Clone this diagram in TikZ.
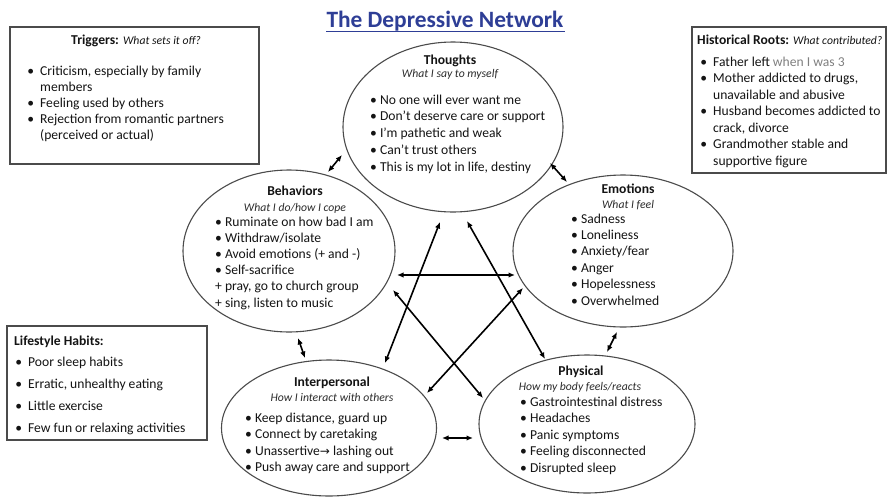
\documentclass[tikz,border=0pt]{standalone}
\usepackage{fontspec}
\setmainfont{Carlito}
\newfontfamily\djv{DejaVu Sans}
\usetikzlibrary{arrows.meta,calc,shapes.geometric}
\definecolor{titleblue}{RGB}{46,62,150}
\definecolor{edgegray}{RGB}{75,75,75}
\definecolor{ink}{RGB}{20,20,20}
\newcommand\bl{\llap{•\hspace{6pt}}}
\begin{document}
\begin{tikzpicture}[x=1pt,y=1pt,
  bubble/.style={draw=edgegray, line width=1.1pt, ellipse, inner sep=0pt, outer sep=0pt},
  boxnode/.style={draw=edgegray, line width=1.2pt, rectangle, inner sep=0pt, outer sep=0pt},
  item/.style={anchor=base west, inner sep=0pt, text=ink, font=\fontsize{13.6}{16}\selectfont},
  head/.style={anchor=base, inner sep=0pt, text=ink, font=\fontsize{13.6}{16}\selectfont\bfseries},
  sub/.style={anchor=base, inner sep=0pt, text=ink!90, font=\fontsize{11.7}{14}\selectfont\itshape},
  link/.style={draw=black, line width=1.6pt, {Latex[length=6.5pt,width=5.5pt]}-{Latex[length=6.5pt,width=5.5pt]}}
]
\useasboundingbox[fill=white] (0,0) rectangle (889,-496);

% title
\node[anchor=base, inner sep=0pt, text=titleblue, font=\fontsize{23.4}{26}\selectfont\bfseries] (title) at (445,-27) {The Depressive Network};
\draw[titleblue, line width=1.6pt] ($(title.base west)+(0,-4.5)$) -- ($(title.base east)+(1,-4.5)$);

% boxes
\node[boxnode, minimum width=249pt, minimum height=137pt] (trig) at (134.5,-95.5) {};
\node[boxnode, minimum width=194pt, minimum height=146pt] (hist) at (789,-100) {};
\node[boxnode, minimum width=200pt, minimum height=114pt] (life) at (107,-383) {};

% ellipses
\node[bubble, minimum width=220pt, minimum height=170pt] (TH) at (453,-127) {};
\node[bubble, minimum width=212pt, minimum height=162pt] (BE) at (289,-251) {};
\node[bubble, minimum width=220pt, minimum height=152pt] (EM) at (623,-251) {};
\node[bubble, minimum width=215pt, minimum height=136pt] (IN) at (329,-428) {};
\node[bubble, minimum width=216pt, minimum height=138pt] (PH) at (587,-424) {};

% Triggers
\node[anchor=base, inner sep=0pt, text=ink, font=\fontsize{13.6}{16}\selectfont] (trigh) at (136,-44) {\textbf{Triggers:} {\fontsize{11.7}{14}\selectfont\itshape What sets it off?}};
\foreach \t [count=\i] in {{\bl Criticism, especially by family},{members},{\bl Feeling used by others},{\bl Rejection from romantic partners},{(perceived or actual)}}
  \node[item] (trig\i) at (40,{-75-(\i-1)*16}) {\t};

% Historical roots
\node[anchor=base west, inner sep=0pt, text=ink, font=\fontsize{13.6}{16}\selectfont] (histh) at (697,-44) {\textbf{Historical Roots:} {\fontsize{11.7}{14}\selectfont\itshape What contributed?}};
\foreach \t [count=\i] in {{\bl Father left {\color{gray}when I was 3}},{\bl Mother addicted to drugs,},{unavailable and abusive},{\bl Husband becomes addicted to},{crack, divorce},{\bl Grandmother stable and},{supportive figure}}
  \node[item] (hist\i) at (713,{-66-(\i-1)*16.5}) {\t};

% Lifestyle
\node[anchor=base west, inner sep=0pt, text=ink, font=\fontsize{13.6}{16}\selectfont\bfseries] (lifeh) at (14,-345) {Lifestyle Habits:};
\foreach \t [count=\i] in {{Poor sleep habits},{Erratic, unhealthy eating},{Little exercise},{Few fun or relaxing activities}}
  \node[item] (life\i) at (28,{-366-(\i-1)*22.3}) {\bl\t};

% Thoughts
\node[head] (thh) at (450,-64) {Thoughts};
\node[sub] (ths) at (450,-77) {What I say to myself};
\foreach \t [count=\i] in {{No one will ever want me},{Don’t deserve care or support},{I’m pathetic and weak},{Can’t trust others},{This is my lot in life, destiny}}
  \node[item] (th\i) at (370,{-104-(\i-1)*16.8}) {• \t};

% Behaviors
\node[head] (beh) at (295,-195) {Behaviors};
\node[sub] (bes) at (295,-211) {What I do/how I cope};
\foreach \t [count=\i] in {{• Ruminate on how bad I am},{• Withdraw/isolate},{• Avoid emotions (+ and -)},{• Self-sacrifice},{+ pray, go to church group},{+ sing, listen to music}}
  \node[item] (be\i) at (215,{-226-(\i-1)*16.2}) {\t};

% Emotions
\node[head] (emh) at (628,-193) {Emotions};
\node[sub] (ems) at (628,-208) {What I feel};
\foreach \t [count=\i] in {{Sadness},{Loneliness},{Anxiety/fear},{Anger},{Hopelessness},{Overwhelmed}}
  \node[item] (em\i) at (571,{-223-(\i-1)*16.4}) {• \t};

% Interpersonal
\node[head] (inh) at (332,-386) {Interpersonal};
\node[sub] (ins) at (332,-401) {How I interact with others};
\foreach \t [count=\i] in {{Keep distance, guard up},{Connect by caretaking},{Unassertive{\djv\fontsize{12}{14}\selectfont →} lashing out},{Push away care and support}}
  \node[item] (in\i) at (245,{-422-(\i-1)*16.6}) {• \t};

% Physical
\node[head] (phh) at (581,-375) {Physical};
\node[sub] (phs) at (580,-390) {How my body feels/reacts};
\foreach \t [count=\i] in {{Gastrointestinal distress},{Headaches},{Panic symptoms},{Feeling disconnected},{Disrupted sleep}}
  \node[item] (ph\i) at (520,{-406-(\i-1)*16.5}) {• \t};

% connectors
\draw[link] ($(TH.center)+(-111,-28)$) -- ($(BE.center)+(39,79)$);
\draw[link] ($(TH.center)+(97,-36)$) -- ($(EM.center)+(-56,69)$);
\draw[link] ($(BE.center)+(9,-87)$) -- ($(IN.center)+(-24,70)$);
\draw[link] ($(EM.center)+(-6,-81)$) -- ($(PH.center)+(20,72)$);
\draw[link] ($(IN.center)+(113,-10)$) -- ($(PH.center)+(-114,-14)$);
\draw[link] ($(BE.center)+(108,-24)$) -- ($(EM.center)+(-108,-24)$);
\draw[link] ($(IN.center)+(56,65)$) -- ($(TH.center)+(-13,-95)$);
\draw[link] ($(TH.center)+(14,-94)$) -- ($(PH.center)+(-42,65)$);
\draw[link] ($(BE.center)+(104,-39)$) -- ($(PH.center)+(-104,26)$);
\draw[link] ($(EM.center)+(-100,-37)$) -- ($(IN.center)+(98,35)$);
\end{tikzpicture}
\end{document}
